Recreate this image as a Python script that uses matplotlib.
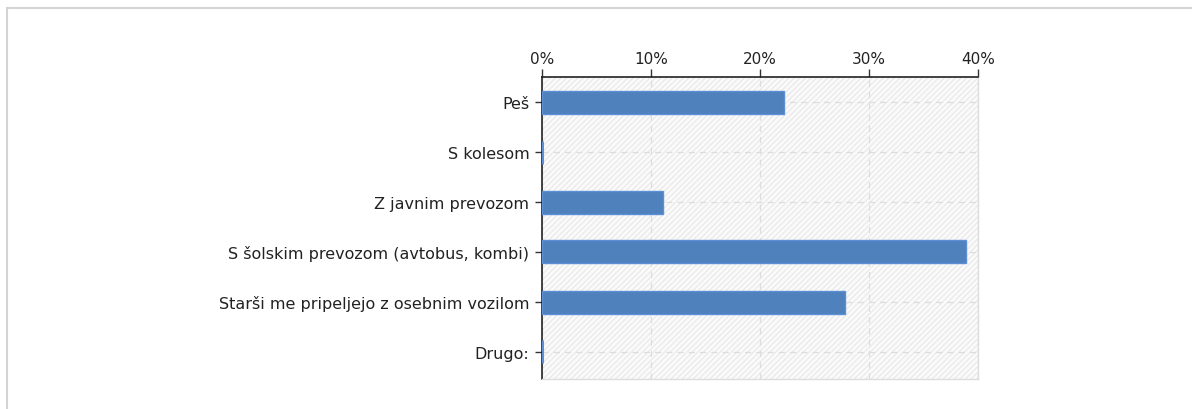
import matplotlib
matplotlib.use("Agg")
import matplotlib.pyplot as plt
from matplotlib.patches import Rectangle

# Kako prihajaš v šolo? (n = 18)
categories = ["Peš", "S kolesom", "Z javnim prevozom",
              "S šolskim prevozom (avtobus, kombi)",
              "Starši me pripeljejo z osebnim vozilom", "Drugo:"]
shares = [22.2, 0.0, 11.1, 38.9, 27.8, 0.0]
xticks = [0, 10, 20, 30, 40]
xtick_labels = ["0%", "10%", "20%", "30%", "40%"]

plt.rcParams["font.family"] = "DejaVu Sans"
plt.rcParams["hatch.linewidth"] = 0.7

fig = plt.figure(figsize=(11.92, 4.10), dpi=100)

# light frame around the whole widget
fig.patches.append(Rectangle((7 / 1192, -0.1), 1.1, 1 - 9 / 410 + 0.1,
                             transform=fig.transFigure, fill=False,
                             edgecolor="#d4d4d4", linewidth=1.5))

ax = fig.add_axes([542 / 1192, 1 - 380 / 410, 436 / 1192, 302 / 410])

# hatched background
ax.add_patch(Rectangle((0, 0), 1, 1, transform=ax.transAxes,
                       facecolor="#fafafa", edgecolor="#e6e6e6",
                       hatch="//////", linewidth=0, zorder=0))

y = list(range(len(categories)))
widths = [1.0 if v > 0 else 2.2 for v in shares]
ax.barh(y, shares, height=0.46, color="#4f81bd",
        edgecolor="#5b8fd6", linewidth=widths, zorder=3)

ax.set_xlim(0, 40)
ax.set_ylim(len(categories) - 0.46, -0.5)
ax.set_yticks(y)
ax.set_yticklabels(categories, fontsize=11.5, color="#222222")
ax.set_xticks(xticks)
ax.set_xticklabels(xtick_labels, fontsize=11, color="#222222")
ax.xaxis.tick_top()
ax.tick_params(axis="x", length=6, width=1, color="#333333", pad=2)
ax.tick_params(axis="y", length=5, width=1, color="#333333", pad=4)

ax.grid(True, color="#dddddd", linestyle=(0, (5, 4)), linewidth=0.9, zorder=1)
ax.set_axisbelow(True)

for s in ("left", "top"):
    ax.spines[s].set_color("#222222")
    ax.spines[s].set_linewidth(1.2)
for s in ("right", "bottom"):
    ax.spines[s].set_color("#dddddd")
    ax.spines[s].set_linewidth(1)

fig.savefig("out.png", dpi=100)
